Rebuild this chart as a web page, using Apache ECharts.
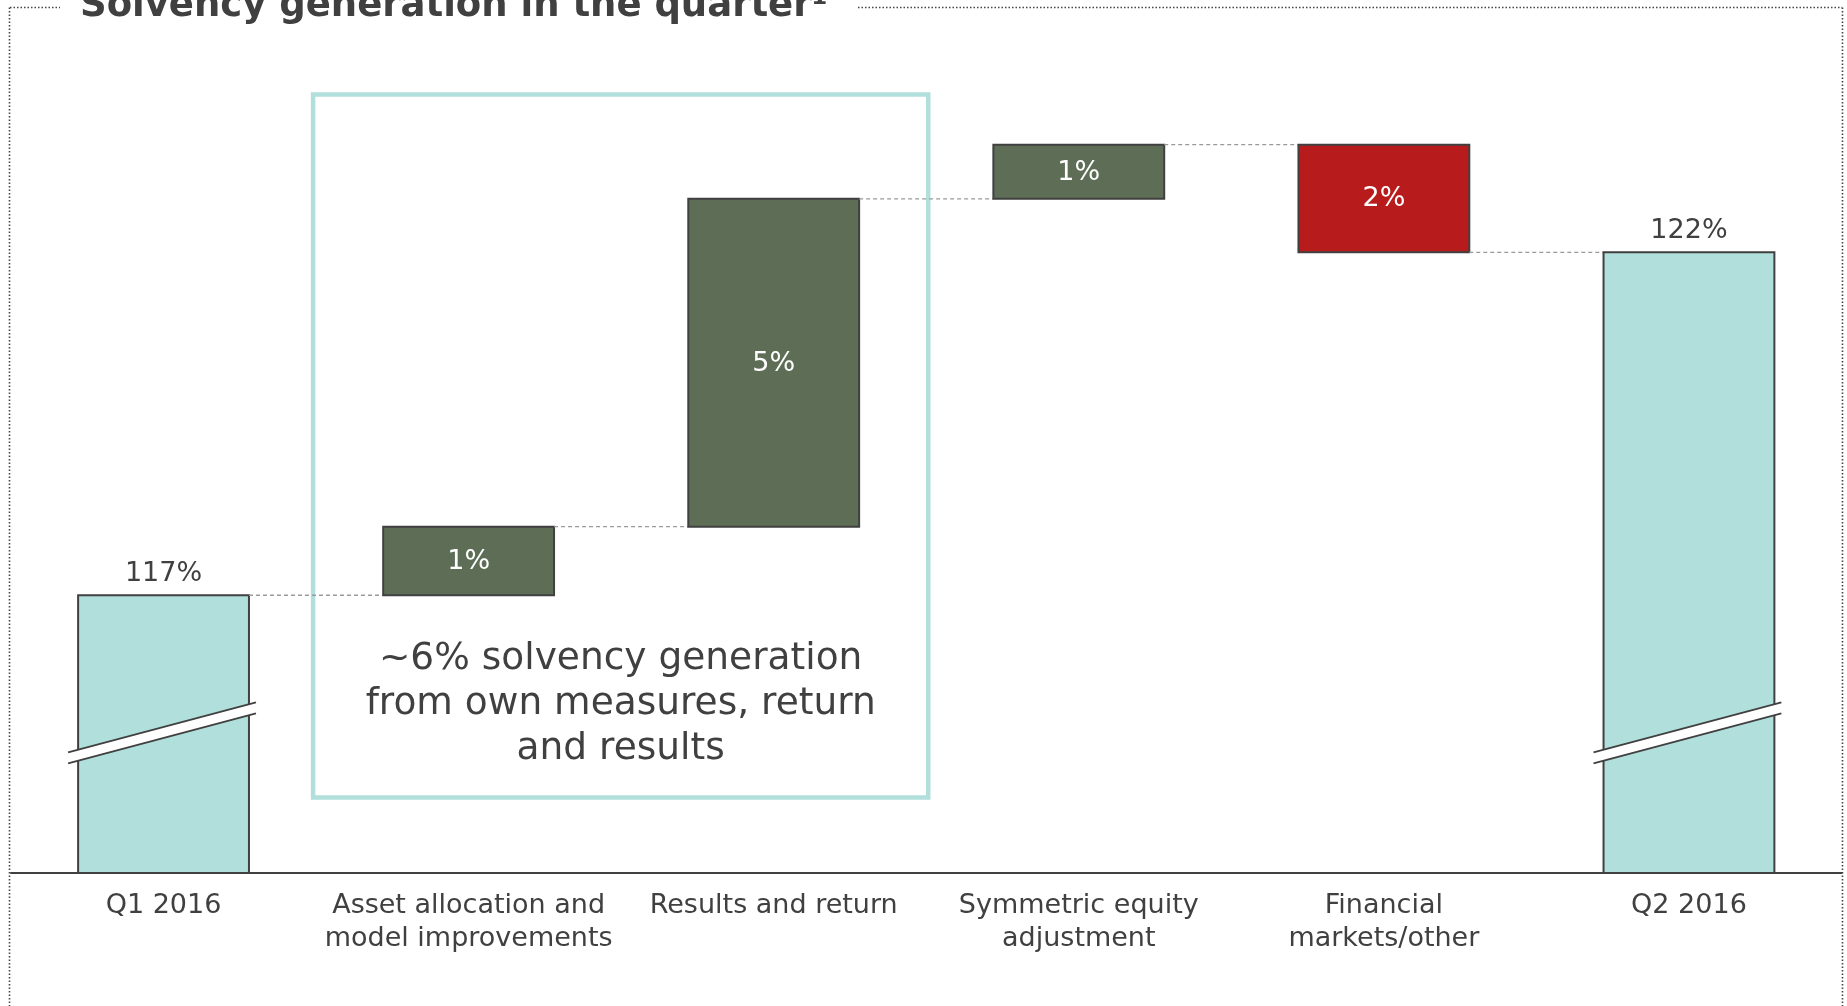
<!DOCTYPE html>
<html><head><meta charset="utf-8">
<script src="https://cdn.jsdelivr.net/npm/echarts/dist/echarts.min.js"></script>
<style>html,body{margin:0;padding:0;background:#fff}#c{width:1847px;height:1006px}</style>
</head><body><div id="c"></div>
<script>
// ---- data ----
const categories = ['Q1 2016', 'Asset allocation and\nmodel improvements', 'Results and return', 'Symmetric equity\nadjustment', 'Financial\nmarkets/other', 'Q2 2016'];
const startTotal = 117;          // Q1 2016 solvency ratio, %
const changes = [1.0, 4.78, 0.79, -1.57]; // movements, percentage points
const endTotal = 122;            // Q2 2016 solvency ratio, %
const valueLabels = ['117%', '1%', '5%', '1%', '2%', '122%'];
const breakLevel = 115;          // where the axis-break mark crosses the total bars
const annotationText = '~6% solvency generation\nfrom own measures, return\nand results';
const annotationCats = [1, 2];
const annotationRange = [114.05, 124.3];

// ---- style ----
const FONT = 'DejaVu Sans';
const TXT = '#404040';
const TEAL = '#b1dfdb';
const GREEN = '#5e6e56';
const RED = '#b81b1b';
const Y_MIN = 112.95, Y_MAX = 124.95;

// build waterfall items [index, from, to]
const items = [];
items.push({ value: [0, Y_MIN, startTotal], kind: 'total' });
let lvl = startTotal;
changes.forEach((c, i) => {
  items.push({ value: [i + 1, lvl, lvl + c], kind: c >= 0 ? 'up' : 'down' });
  lvl += c;
});
items.push({ value: [categories.length - 1, Y_MIN, endTotal], kind: 'total' });

const chart = echarts.init(document.getElementById('c'));

function renderBar(params, api) {
  const it = items[params.dataIndex];
  const idx = api.value(0), from = api.value(1), to = api.value(2);
  const band = api.size([1, 0])[0];
  const w = band * 0.56;
  const hi = Math.max(from, to), lo = Math.min(from, to);
  const pTop = api.coord([idx, hi]);
  const pBot = api.coord([idx, lo]);
  const cx = pTop[0];
  const x0 = cx - w / 2, x1 = cx + w / 2;
  const fill = it.kind === 'total' ? TEAL : (it.kind === 'up' ? GREEN : RED);
  const children = [{
    type: 'rect',
    shape: { x: x0, y: pTop[1], width: w, height: pBot[1] - pTop[1] },
    style: { fill: fill, stroke: TXT, lineWidth: 2 }
  }];
  // connector to next bar
  if (idx < categories.length - 1) {
    const endLevel = to;
    const yc = api.coord([idx, endLevel])[1];
    const nx = api.coord([idx + 1, endLevel])[0] - w / 2;
    children.push({
      type: 'line',
      shape: { x1: x1, y1: yc, x2: nx, y2: yc },
      style: { stroke: '#9a9a9a', lineWidth: 1.3, lineDash: [4, 3] }
    });
  }
  if (it.kind === 'total') {
    children.push({
      type: 'text',
      style: { text: valueLabels[params.dataIndex], x: cx, y: pTop[1] - 8, align: 'center', verticalAlign: 'bottom',
        font: '27px "' + FONT + '"', fill: TXT }
    });
    // axis break mark
    const yb = api.coord([idx, breakLevel])[1];
    const bx0 = x0 - 10, bx1 = x1 + 7;
    const slope = -0.266;
    const half = 5.5;
    const yL = yb - slope * (cx - bx0), yR = yb + slope * (bx1 - cx);
    children.push({
      type: 'polygon',
      shape: { points: [[bx0, yL - half], [bx1, yR - half], [bx1, yR + half], [bx0, yL + half]] },
      style: { fill: '#ffffff' }
    });
    children.push({ type: 'line', shape: { x1: bx0, y1: yL - half, x2: bx1, y2: yR - half }, style: { stroke: TXT, lineWidth: 1.8 } });
    children.push({ type: 'line', shape: { x1: bx0, y1: yL + half, x2: bx1, y2: yR + half }, style: { stroke: TXT, lineWidth: 1.8 } });
  } else {
    children.push({
      type: 'text',
      style: { text: valueLabels[params.dataIndex], x: cx, y: (pTop[1] + pBot[1]) / 2 + 1, align: 'center', verticalAlign: 'middle',
        font: '27px "' + FONT + '"', fill: '#ffffff' }
    });
  }
  return { type: 'group', children: children };
}

function renderAnnotation(params, api) {
  const band = api.size([1, 0])[0];
  const left = api.coord([api.value(0), api.value(3)])[0] - band / 2 - 3;
  const right = api.coord([api.value(1), api.value(3)])[0] + band / 2 + 2;
  const top = api.coord([api.value(0), api.value(3)])[1];
  const bottom = api.coord([api.value(0), api.value(2)])[1];
  return {
    type: 'group',
    children: [{
      type: 'rect',
      shape: { x: left, y: top, width: right - left, height: bottom - top },
      style: { fill: 'none', stroke: TEAL, lineWidth: 4.5 }
    }, {
      type: 'text',
      style: { text: annotationText, x: (left + right) / 2, y: bottom - 93, align: 'center', verticalAlign: 'middle',
        font: '37.5px "' + FONT + '"', lineHeight: 45, fill: TXT }
    }]
  };
}

const option = {
  backgroundColor: '#ffffff',
  animation: false,
  grid: { left: 11, right: 5.5, top: 50, bottom: 133, outerBoundsMode: 'none', containLabel: false },
  xAxis: {
    type: 'category',
    data: categories,
    axisLine: { lineStyle: { color: TXT, width: 2 } },
    axisTick: { show: false },
    axisLabel: { interval: 0, color: TXT, fontFamily: FONT, fontSize: 27, lineHeight: 33, margin: 16 },
    splitLine: { show: false }
  },
  yAxis: { type: 'value', show: false, min: Y_MIN, max: Y_MAX, splitLine: { show: false } },
  series: [{
    type: 'custom',
    renderItem: renderAnnotation,
    clip: false,
    z: 1,
    data: [[annotationCats[0], annotationCats[1], annotationRange[0], annotationRange[1]]]
  }, {
    type: 'custom',
    renderItem: renderBar,
    clip: false,
    z: 2,
    data: items.map(d => d.value)
  }],
  graphic: [
    { type: 'line', shape: { x1: 10, y1: 7.5, x2: 60, y2: 7.5 }, style: { stroke: '#444', lineWidth: 1.6, lineDash: [1.5, 2] } },
    { type: 'line', shape: { x1: 858, y1: 7.5, x2: 1842, y2: 7.5 }, style: { stroke: '#444', lineWidth: 1.6, lineDash: [1.5, 2] } },
    { type: 'line', shape: { x1: 9.5, y1: 7.5, x2: 9.5, y2: 1006 }, style: { stroke: '#444', lineWidth: 1.6, lineDash: [1.5, 2] } },
    { type: 'line', shape: { x1: 1842.5, y1: 7.5, x2: 1842.5, y2: 1006 }, style: { stroke: '#444', lineWidth: 1.6, lineDash: [1.5, 2] } },
    { type: 'text', x: 80, y: 6, style: { text: 'Solvency generation in the quarter¹', font: 'bold 37px "' + FONT + '"', fill: TXT, verticalAlign: 'middle' } }
  ]
};
chart.setOption(option);
</script>
</body></html>
